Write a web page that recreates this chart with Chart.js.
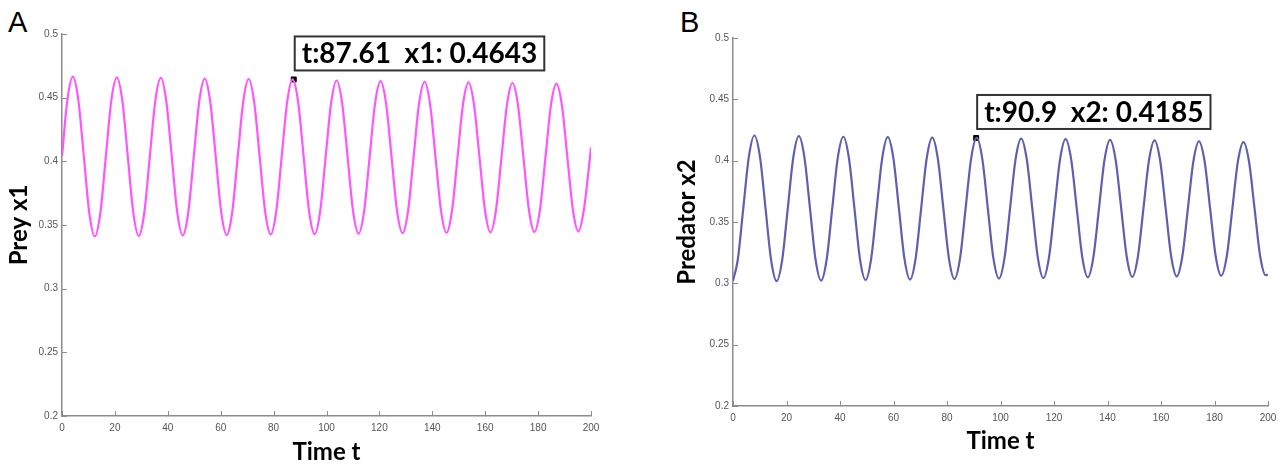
<!DOCTYPE html>
<html>
<head>
<meta charset="utf-8">
<script src="https://cdn.jsdelivr.net/npm/chart.js@4/dist/chart.umd.min.js"></script>
<style>
  body { margin: 0; background: #fff; width: 1283px; height: 467px; position: relative; overflow: hidden; }
  .panel { position: absolute; top: 0; }
  .letter { position: absolute; font-family: "Liberation Sans", Arial, sans-serif; font-size: 29px; color: #000; line-height: 1; }
</style>
</head>
<body>
<div class="letter" style="left:8px; top:8px;">A</div>
<div class="letter" style="left:680px; top:8px;">B</div>
<div class="panel" style="left:0px;"><canvas id="preyCanvas" width="620" height="467"></canvas></div>
<div class="panel" style="left:640px;"><canvas id="predCanvas" width="643" height="467"></canvas></div>
<script>
// Prey x1 (panel A)
const preyT = [
  0, 2.02,
  4.10, 6.18, 8.26, 10.33, 12.41, 14.49, 16.57, 18.64,
  20.72, 22.80, 24.88, 26.95, 29.03, 31.11, 33.19, 35.26,
  37.34, 39.42, 41.50, 43.57, 45.65, 47.73, 49.81, 51.88,
  53.96, 56.04, 58.12, 60.19, 62.27, 64.35, 66.43, 68.50,
  70.58, 72.66, 74.74, 76.81, 78.89, 80.97, 83.05, 85.12,
  87.20, 89.28, 91.36, 93.43, 95.51, 97.59, 99.67, 101.74,
  103.82, 105.90, 107.98, 110.05, 112.13, 114.21, 116.29, 118.36,
  120.44, 122.52, 124.60, 126.67, 128.75, 130.83, 132.91, 134.98,
  137.06, 139.14, 141.22, 143.29, 145.37, 147.45, 149.53, 151.60,
  153.68, 155.76, 157.84, 159.91, 161.99, 164.07, 166.15, 168.22,
  170.30, 172.38, 174.46, 176.53, 178.61, 180.69, 182.77, 184.84,
  186.92, 189.00, 191.08, 193.15, 195.23, 197.31, 199.39, 200
];
const preyX1 = [
  0.404, 0.448,
  0.4665, 0.4481, 0.4038, 0.3594, 0.3410, 0.3593, 0.4035, 0.4477,
  0.4660, 0.4478, 0.4037, 0.3597, 0.3414, 0.3596, 0.4035, 0.4473,
  0.4655, 0.4474, 0.4037, 0.3599, 0.3418, 0.3598, 0.4034, 0.4470,
  0.4650, 0.4470, 0.4036, 0.3601, 0.3421, 0.3600, 0.4033, 0.4466,
  0.4645, 0.4466, 0.4035, 0.3604, 0.3425, 0.3603, 0.4034, 0.4465,
  0.4643, 0.4466, 0.4036, 0.3606, 0.3428, 0.3605, 0.4032, 0.4458,
  0.4635, 0.4459, 0.4034, 0.3608, 0.3432, 0.3607, 0.4031, 0.4455,
  0.4630, 0.4455, 0.4033, 0.3611, 0.3436, 0.3610, 0.4031, 0.4451,
  0.4625, 0.4451, 0.4032, 0.3613, 0.3439, 0.3612, 0.4030, 0.4447,
  0.4620, 0.4448, 0.4032, 0.3616, 0.3443, 0.3615, 0.4029, 0.4443,
  0.4615, 0.4444, 0.4031, 0.3618, 0.3446, 0.3617, 0.4028, 0.4439,
  0.4610, 0.4440, 0.4030, 0.3620, 0.3450, 0.3620, 0.3990, 0.4110
];

// Predator x2 (panel B)
const predT = [
  0, 1.77, 3.84, 5.92,
  8.00, 10.08, 12.16, 14.23, 16.31, 18.39, 20.47, 22.54,
  24.62, 26.70, 28.78, 30.85, 32.93, 35.01, 37.09, 39.16,
  41.24, 43.32, 45.40, 47.47, 49.55, 51.63, 53.71, 55.78,
  57.86, 59.94, 62.02, 64.09, 66.17, 68.25, 70.33, 72.40,
  74.48, 76.56, 78.64, 80.71, 82.79, 84.87, 86.95, 89.02,
  91.10, 93.18, 95.26, 97.33, 99.41, 101.49, 103.57, 105.64,
  107.72, 109.80, 111.88, 113.95, 116.03, 118.11, 120.19, 122.26,
  124.34, 126.42, 128.50, 130.57, 132.65, 134.73, 136.81, 138.88,
  140.96, 143.04, 145.12, 147.19, 149.27, 151.35, 153.43, 155.50,
  157.58, 159.66, 161.74, 163.81, 165.89, 167.97, 170.05, 172.12,
  174.20, 176.28, 178.36, 180.43, 182.51, 184.59, 186.67, 188.74,
  190.82, 192.90, 194.98, 197.05, 199.13, 200
];
const predX2 = [
  0.3020, 0.3190, 0.3611, 0.4031,
  0.4205, 0.4031, 0.3612, 0.3192, 0.3018, 0.3191, 0.3609, 0.4027,
  0.4200, 0.4027, 0.3611, 0.3195, 0.3022, 0.3194, 0.3609, 0.4023,
  0.4195, 0.4024, 0.3611, 0.3198, 0.3027, 0.3198, 0.3610, 0.4021,
  0.4192, 0.4022, 0.3612, 0.3201, 0.3031, 0.3200, 0.3610, 0.4018,
  0.4188, 0.4019, 0.3612, 0.3204, 0.3035, 0.3203, 0.3610, 0.4017,
  0.4185, 0.4017, 0.3612, 0.3207, 0.3039, 0.3206, 0.3610, 0.4013,
  0.4180, 0.4014, 0.3612, 0.3210, 0.3044, 0.3210, 0.3610, 0.4010,
  0.4175, 0.4010, 0.3612, 0.3214, 0.3049, 0.3214, 0.3610, 0.4006,
  0.4170, 0.4007, 0.3612, 0.3217, 0.3053, 0.3216, 0.3609, 0.4002,
  0.4165, 0.4003, 0.3611, 0.3219, 0.3057, 0.3219, 0.3608, 0.3997,
  0.4158, 0.3997, 0.3610, 0.3223, 0.3062, 0.3222, 0.3607, 0.3992,
  0.4151, 0.3993, 0.3609, 0.3225, 0.3066, 0.3072
];

// data tips
const preyTip = { t: 87.61, v: 0.4643, label: "t:87.61  x1: 0.4643" };
const predTip = { t: 90.9, v: 0.4185, label: "t:90.9  x2: 0.4185" };

const xTicksMin = 0, xTicksMax = 200, xStep = 20;
const yTicksMin = 0.2, yTicksMax = 0.5, yStep = 0.05;

const AXIS = "#8c8c8c";
const TICK_TXT = "#555";

const toPoints = (ts, vs) => ts.map((t, i) => ({ x: t, y: vs[i] }));

// matlab style ticks pointing into the plot
const innerTicks = {
  id: "innerTicks",
  afterDraw(chart) {
    const { ctx, chartArea: a, scales: { x, y } } = chart;
    ctx.save();
    ctx.strokeStyle = AXIS;
    ctx.lineWidth = 1;
    ctx.beginPath();
    x.ticks.forEach(t => {
      const px = Math.round(x.getPixelForValue(t.value)) + 0.5;
      ctx.moveTo(px, a.bottom);
      ctx.lineTo(px, a.bottom - 5);
    });
    y.ticks.forEach(t => {
      const py = Math.round(y.getPixelForValue(t.value)) + 0.5;
      ctx.moveTo(a.left, py);
      ctx.lineTo(a.left + 5, py);
    });
    ctx.stroke();
    ctx.restore();
  }
};

// boxed data tip above the marked point
const dataTip = {
  id: "dataTip",
  afterDatasetsDraw(chart, args, opts) {
    const pt = chart.getDatasetMeta(1).data[0];
    if (!pt) return;
    const ctx = chart.ctx;
    ctx.save();
    ctx.font = "bold 28px Lato";
    const w = ctx.measureText(opts.text).width + 14;
    const h = 34;
    const left = pt.x + 1, bottom = pt.y - 9;
    ctx.fillStyle = "#fff";
    ctx.fillRect(left, bottom - h, w, h);
    ctx.strokeStyle = "#333";
    ctx.lineWidth = 2;
    ctx.strokeRect(left, bottom - h, w, h);
    ctx.fillStyle = "#000";
    ctx.textBaseline = "middle";
    ctx.fillText(opts.text, left + 7, bottom - h / 2 + 1);
    ctx.restore();
  }
};

const makeChart = (canvas, pts, tip, color, yTitle, geo) => new Chart(canvas, {
  type: "line",
  data: {
    datasets: [
      {
        data: pts,
        borderColor: color,
        borderWidth: 2.2,
        pointRadius: 0,
        cubicInterpolationMode: "monotone",
        fill: false
      },
      {
        data: [{ x: tip.t, y: tip.v }],
        showLine: false,
        pointStyle: "rect",
        pointRadius: 3.5,
        backgroundColor: "#000",
        borderColor: "#000",
        borderWidth: 1
      }
    ]
  },
  options: {
    responsive: false,
    animation: false,
    events: [],
    layout: { padding: { top: geo.top, right: geo.right, left: 0, bottom: 0 } },
    plugins: {
      legend: { display: false },
      tooltip: { enabled: false },
      dataTip: { text: tip.label }
    },
    scales: {
      x: {
        type: "linear",
        min: xTicksMin,
        max: xTicksMax,
        afterFit: s => { s.height = geo.xh; },
        ticks: { stepSize: xStep, padding: 6, maxRotation: 0, color: TICK_TXT, font: { family: "Liberation Sans", size: 10 } },
        grid: { display: false, drawTicks: false },
        border: { display: true, color: AXIS, width: 1.5 },
        title: { display: true, text: "Time t", color: "#000", padding: { top: 0, bottom: geo.xtp }, font: { family: "Lato", weight: "bold", size: 24 } }
      },
      y: {
        min: yTicksMin,
        max: yTicksMax,
        afterFit: s => { s.width = geo.yw; },
        ticks: {
          stepSize: yStep,
          padding: 4,
          color: TICK_TXT,
          font: { family: "Liberation Sans", size: 10 },
          callback: v => String(parseFloat(v.toFixed(2)))
        },
        grid: { display: false, drawTicks: false },
        border: { display: true, color: AXIS, width: 1.5 },
        title: { display: true, text: yTitle, color: "#000", padding: { top: geo.ytp, bottom: 0 }, font: { family: "Lato", weight: "bold", size: 24 } }
      }
    }
  },
  plugins: [innerTicks, dataTip]
});

makeChart(document.getElementById("preyCanvas"), toPoints(preyT, preyX1), preyTip, "#ff55ff", "Prey x1",
  { top: 34, right: 29, yw: 62, xh: 51, ytp: 5, xtp: 0 });
makeChart(document.getElementById("predCanvas"), toPoints(predT, predX2), predTip, "#5f5fae", "Predator x2",
  { top: 38, right: 15, yw: 93, xh: 61, ytp: 33, xtp: 11 });
</script>
</body>
</html>
